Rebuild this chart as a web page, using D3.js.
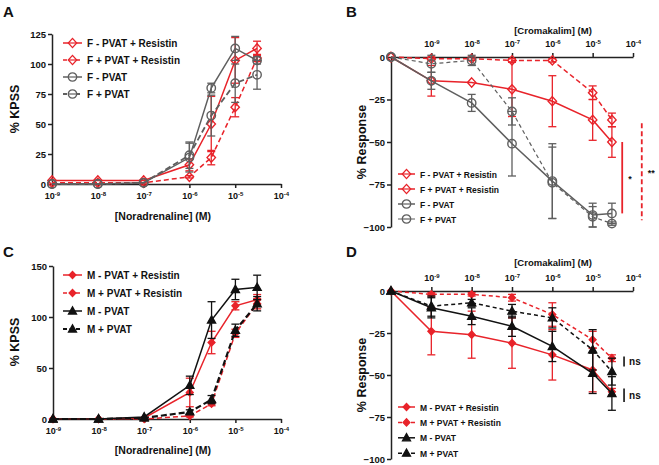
<!DOCTYPE html>
<html><head><meta charset="utf-8">
<script src="https://cdn.jsdelivr.net/npm/d3@7"></script>
<style>
body{margin:0;background:#fff}
text{font-family:"Liberation Sans",Arial,sans-serif;font-weight:bold;fill:#111}
</style>
</head><body>
<svg id="chart" width="659" height="465"></svg>
<script>
// ---------- DATA ----------
const concNA = [1e-9, 1e-8, 1e-7, 1e-6, 3e-6, 1e-5, 3e-5];
const concCK = [1e-10, 1e-9, 1e-8, 1e-7, 1e-6, 1e-5, 3e-5];
const xTicksNA = [1e-9, 1e-8, 1e-7, 1e-6, 1e-5, 1e-4];
const xTicksCK = [1e-9, 1e-8, 1e-7, 1e-6, 1e-5, 1e-4];
const yTicksA = [0, 25, 50, 75, 100, 125];
const yTicksC = [0, 50, 100, 150];
const yTicksBD = [0, -25, -50, -75, -100];

// Panel A (female, noradrenaline)
const aFmPVATRes = [3, 3, 3, 16, 50, 103, 113];
const aFmPVATResErr = [0, 0, 0, 5, 23, 19, 6];
const aFpPVATRes = [1, 1, 1, 6, 22, 64, 105];
const aFpPVATResErr = [0, 0, 0, 1, 6, 8, 3];
const aFmPVAT = [0, 0, 1, 22, 80, 113, 103];
const aFmPVATErr = [0, 0, 0, 12, 4, 10, 3];
const aFpPVAT = [0, 0, 1, 24, 57, 84, 91];
const aFpPVATErr = [0, 0, 0, 11, 17, 16, 12];

// Panel B (female, cromakalim)
const bFmPVATRes = [0, -14, -15, -19, -26, -37, -50];
const bFmPVATResErr = [0, 9, 0, 16, 15, 12, 9];
const bFpPVATRes = [0, -1, -1, -2, -2, -21, -37];
const bFpPVATResErr = [0, 1, 1, 1, 1, 4, 4];
const bFmPVAT = [0, -14, -27, -51, -73, -93, -92];
const bFmPVATErr = [0, 5, 5, 19, 22, 7, 6];
const bFpPVAT = [0, -4, -2, -32, -74, -94, -98];
const bFpPVATErr = [0, 5, 3, 8, 21, 6, 1];

// Panel C (male, noradrenaline)
const cMmPVATRes = [0, 0, 1, 26, 75, 111, 117];
const cMmPVATResErr = [0, 0, 0, 14, 11, 4, 5];
const cMpPVATRes = [0, 0, 0, 3, 15, 84, 113];
const cMpPVATResErr = [0, 0, 0, 1, 2, 4, 5];
const cMmPVAT = [0, 0, 2, 33, 97, 127, 129];
const cMmPVATErr = [0, 0, 0, 9, 18, 10, 12];
const cMpPVAT = [0, 0, 1, 7, 19, 87, 113];
const cMpPVATErr = [0, 0, 0, 2, 4, 6, 7];

// Panel D (male, cromakalim)
const dMmPVATRes = [0, -24, -26, -31, -38, -47, -60];
const dMmPVATResErr = [0, 14, 14, 15, 15, 13, 2];
const dMpPVATRes = [0, -2, -2, -4, -14, -29, -40];
const dMpPVATResErr = [0, 1, 1, 2, 7, 5, 2];
const dMmPVAT = [0, -10, -15, -21, -33, -49, -61];
const dMmPVATErr = [0, 6, 5, 6, 9, 12, 10];
const dMpPVAT = [0, -9, -7, -12, -16, -35, -48];
const dMpPVATErr = [0, 6, 2, 4, 6, 12, 8];

// significance annotations
const sigB = [
  {x: 5.4e-5, y1: -50, y2: -92, label: "*", dash: null},
  {x: 1.65e-4, y1: -39, y2: -96, label: "**", dash: "5,3"}
];
const sigD = [
  {x: 6e-5, y1: -39, y2: -45, label: "ns"},
  {x: 6e-5, y1: -58, y2: -66, label: "ns"}
];

// ---------- STYLES ----------
const RED = "#e8232a", GREY = "#5f5f5f", BLACK = "#111";

const svg = d3.select("#chart");

function markerPath(type) {
  if (type === "diamond") return "M0,-4.6L4.2,0L0,4.6L-4.2,0Z";
  if (type === "sdiamond") return "M0,-3.6L3.4,0L0,3.6L-3.4,0Z";
  if (type === "circle") return d3.symbol(d3.symbolCircle, 56)();
  if (type === "triangle") return "M0,-4.2L4,3L-4,3Z";
  return "";
}

function supLabel(sel) {
  sel.each(function(d) {
    const t = d3.select(this);
    t.text(null);
    t.append("tspan").text("10");
    t.append("tspan").attr("dy", -3.5).attr("font-size", 6).text(Math.round(Math.log10(d)));
  });
}

function panel(cfg) {
  const g = svg.append("g");
  const x = d3.scaleLog().domain(cfg.xDomain).range([cfg.left, cfg.right]);
  const y = d3.scaleLinear().domain(cfg.yDomain).range([cfg.bottom, cfg.top]);

  // axes
  const xAxis = (cfg.axisTop ? d3.axisTop(x) : d3.axisBottom(x))
    .tickValues(cfg.xTicks).tickSize(4).tickSizeOuter(0).tickPadding(cfg.axisTop ? 6 : 5);
  const xg = g.append("g")
    .attr("transform", `translate(0,${cfg.axisTop ? y(0) : cfg.bottom})`)
    .call(xAxis);
  xg.selectAll(".tick text").attr("font-size", 9).call(supLabel);
  const yAxis = d3.axisLeft(y).tickValues(cfg.yTicks).tickSize(4).tickSizeOuter(0).tickPadding(2);
  const yg = g.append("g").attr("transform", `translate(${cfg.left},0)`).call(yAxis);
  yg.selectAll(".tick text").attr("font-size", 9.5);
  [xg, yg].forEach(a => {
    a.selectAll("path,line").attr("stroke", "#222").attr("stroke-width", 1.5);
    a.selectAll("text").style("fill", "#111").attr("font-family", "Liberation Sans, Arial, sans-serif").attr("font-weight", "bold");
  });

  // titles
  g.append("text").attr("x", cfg.xTitlePos[0]).attr("y", cfg.xTitlePos[1])
    .attr("text-anchor", "middle").attr("font-size", cfg.xTitleSize).text(cfg.xTitle);
  g.append("text").attr("transform", `translate(${cfg.yTitlePos[0]},${cfg.yTitlePos[1]}) rotate(-90)`)
    .attr("text-anchor", "middle").attr("font-size", 12.5).text(cfg.yTitle);
  g.append("text").attr("x", cfg.letterPos[0]).attr("y", cfg.letterPos[1])
    .attr("font-size", 15).text(cfg.letter);

  const conc = cfg.conc;
  // series
  cfg.series.forEach(s => {
    const pts = conc.map((c, i) => ({c, v: s.values[i], e: s.err[i]}));
    const sg = g.append("g");
    // error bars
    pts.filter(p => p.e > 0).forEach(p => {
      const cx = x(p.c), ya = y(p.v - p.e), yb = y(p.v + p.e);
      sg.append("line").attr("x1", cx).attr("x2", cx).attr("y1", ya).attr("y2", yb)
        .attr("stroke", s.color).attr("stroke-width", 1.3);
      [ya, yb].forEach(yy => sg.append("line").attr("x1", cx - 4).attr("x2", cx + 4)
        .attr("y1", yy).attr("y2", yy).attr("stroke", s.color).attr("stroke-width", 1.3));
    });
    const line = d3.line().x(p => x(p.c)).y(p => y(p.v));
    sg.append("path").datum(pts).attr("d", line).attr("fill", "none")
      .attr("stroke", s.color).attr("stroke-width", s.width || 1.5)
      .attr("stroke-dasharray", s.dash || null);
    sg.selectAll(".m").data(pts).join("path")
      .attr("transform", p => `translate(${x(p.c)},${y(p.v)})`)
      .attr("d", markerPath(s.marker))
      .attr("fill", s.filled ? s.color : "none")
      .attr("stroke", s.color).attr("stroke-width", 1.4);
  });

  // legend
  const L = cfg.legend;
  cfg.series.forEach((s, i) => {
    const yy = L.y + i * L.dy;
    g.append("line").attr("x1", L.x).attr("x2", L.x + L.w).attr("y1", yy).attr("y2", yy)
      .attr("stroke", s.color).attr("stroke-width", s.width || 1.5)
      .attr("stroke-dasharray", s.dash ? "4,2.5" : null);
    g.append("path").attr("transform", `translate(${L.x + L.w / 2},${yy})`)
      .attr("d", markerPath(s.marker))
      .attr("fill", s.filled ? s.color : "#fff").attr("stroke", s.color).attr("stroke-width", 1.3);
    if (!s.filled) g.append("line").attr("x1", L.x + L.w/2 - 4).attr("x2", L.x + L.w/2 + 4)
      .attr("y1", yy).attr("y2", yy).attr("stroke", s.color).attr("stroke-width", 1.2);
    g.append("text").attr("x", L.x + L.w + 5).attr("y", yy + 3.5)
      .attr("font-size", L.fs).text(s.name);
  });

  return {g, x, y};
}

// Panel A
panel({
  letter: "A", letterPos: [3, 17],
  left: 52, right: 281, top: 34, bottom: 184,
  xDomain: [1e-9, 1e-4], yDomain: [0, 125], xTicks: xTicksNA, yTicks: yTicksA,
  conc: concNA, xTitle: "[Noradrenaline] (M)", xTitlePos: [163, 220], xTitleSize: 10.5,
  yTitle: "% KPSS", yTitlePos: [19, 109],
  legend: {x: 63, y: 43, dy: 17, w: 19, fs: 10},
  series: [
    {name: "F - PVAT + Resistin", values: aFmPVATRes, err: aFmPVATResErr, color: RED, marker: "diamond"},
    {name: "F + PVAT + Resistin", values: aFpPVATRes, err: aFpPVATResErr, color: RED, marker: "diamond", dash: "5,3"},
    {name: "F - PVAT", values: aFmPVAT, err: aFmPVATErr, color: GREY, marker: "circle"},
    {name: "F + PVAT", values: aFpPVAT, err: aFpPVATErr, color: GREY, marker: "circle", dash: "6,3", width: 1.8}
  ]
});

// Panel B
const pB = panel({
  letter: "B", letterPos: [346, 17],
  left: 391, right: 633, top: 57, bottom: 227,
  xDomain: [1e-10, 1e-4], yDomain: [-100, 0], xTicks: xTicksCK, yTicks: yTicksBD, axisTop: true,
  conc: concCK, xTitle: "[Cromakalim] (M)", xTitlePos: [553, 34], xTitleSize: 9.5,
  yTitle: "% Response", yTitlePos: [366, 142],
  legend: {x: 398, y: 174, dy: 15, w: 17, fs: 8.5},
  series: [
    {name: "F - PVAT + Resistin", values: bFmPVATRes, err: bFmPVATResErr, color: RED, marker: "diamond"},
    {name: "F + PVAT + Resistin", values: bFpPVATRes, err: bFpPVATResErr, color: RED, marker: "diamond", dash: "5,3"},
    {name: "F - PVAT", values: bFmPVAT, err: bFmPVATErr, color: GREY, marker: "circle"},
    {name: "F + PVAT", values: bFpPVAT, err: bFpPVATErr, color: GREY, marker: "circle", dash: "4,3", width: 1.2}
  ]
});
sigB.forEach(s => {
  const xx = pB.x(s.x);
  pB.g.append("line").attr("x1", xx).attr("x2", xx).attr("y1", pB.y(s.y1)).attr("y2", pB.y(s.y2))
    .attr("stroke", RED).attr("stroke-width", 1.8).attr("stroke-dasharray", s.dash);
  pB.g.append("text").attr("x", xx + 6).attr("y", pB.y((s.y1 + s.y2) / 2) + 4)
    .attr("font-size", 9).text(s.label);
});

// Panel C
panel({
  letter: "C", letterPos: [3, 257],
  left: 53, right: 281, top: 266, bottom: 419,
  xDomain: [1e-9, 1e-4], yDomain: [0, 150], xTicks: xTicksNA, yTicks: yTicksC,
  conc: concNA, xTitle: "[Noradrenaline] (M)", xTitlePos: [163, 454], xTitleSize: 10.5,
  yTitle: "% KPSS", yTitlePos: [19, 342],
  legend: {x: 63, y: 275, dy: 18, w: 19, fs: 10},
  series: [
    {name: "M - PVAT + Resistin", values: cMmPVATRes, err: cMmPVATResErr, color: RED, marker: "sdiamond", filled: true},
    {name: "M + PVAT + Resistin", values: cMpPVATRes, err: cMpPVATResErr, color: RED, marker: "sdiamond", filled: true, dash: "5,3"},
    {name: "M - PVAT", values: cMmPVAT, err: cMmPVATErr, color: BLACK, marker: "triangle", filled: true},
    {name: "M + PVAT", values: cMpPVAT, err: cMpPVATErr, color: BLACK, marker: "triangle", filled: true, dash: "6,3", width: 2.2}
  ]
});

// Panel D
const pD = panel({
  letter: "D", letterPos: [346, 257],
  left: 391, right: 633, top: 291, bottom: 459,
  xDomain: [1e-10, 1e-4], yDomain: [-100, 0], xTicks: xTicksCK, yTicks: yTicksBD, axisTop: true,
  conc: concCK, xTitle: "[Cromakalim] (M)", xTitlePos: [553, 266], xTitleSize: 9.5,
  yTitle: "% Response", yTitlePos: [366, 375],
  legend: {x: 398, y: 407, dy: 15.4, w: 17, fs: 8.5},
  series: [
    {name: "M - PVAT + Resistin", values: dMmPVATRes, err: dMmPVATResErr, color: RED, marker: "sdiamond", filled: true},
    {name: "M + PVAT + Resistin", values: dMpPVATRes, err: dMpPVATResErr, color: RED, marker: "sdiamond", filled: true, dash: "4,3"},
    {name: "M - PVAT", values: dMmPVAT, err: dMmPVATErr, color: BLACK, marker: "triangle", filled: true},
    {name: "M + PVAT", values: dMpPVAT, err: dMpPVATErr, color: BLACK, marker: "triangle", filled: true, dash: "4,3"}
  ]
});
sigD.forEach(s => {
  const xx = pD.x(s.x);
  pD.g.append("line").attr("x1", xx).attr("x2", xx).attr("y1", pD.y(s.y1)).attr("y2", pD.y(s.y2))
    .attr("stroke", BLACK).attr("stroke-width", 1.6);
  pD.g.append("text").attr("x", xx + 5).attr("y", pD.y((s.y1 + s.y2) / 2) + 3.5)
    .attr("font-size", 10).attr("font-weight", "normal").text(s.label);
});
</script>
</body></html>
